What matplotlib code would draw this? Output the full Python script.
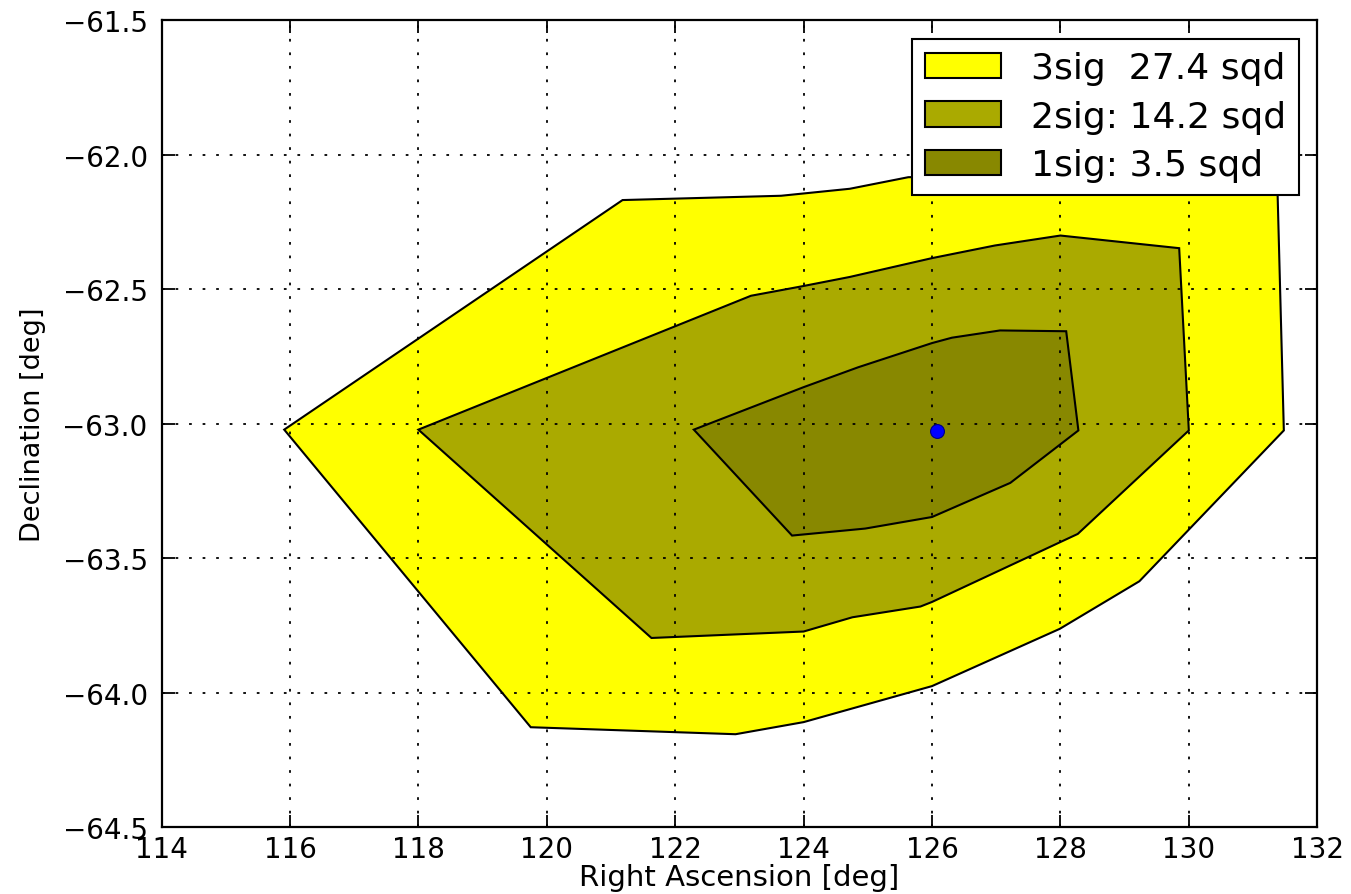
import numpy as np
import matplotlib
matplotlib.use('Agg')
import matplotlib.pyplot as plt

# contour polygons (RA, Dec in deg)
ra_3sig = [115.91, 121.18, 123.65, 124.72, 125.63, 128.0, 130.5, 131.38,
           131.48, 129.23, 127.99, 126.0, 124.0, 122.94, 119.75]
dec_3sig = [-63.022, -62.168, -62.152, -62.126, -62.083, -62.07, -62.09, -62.12,
            -63.025, -63.586, -63.763, -63.976, -64.11, -64.155, -64.129]

ra_2sig = [118.0, 123.18, 123.97, 124.72, 126.0, 126.98, 128.0, 129.85,
           130.0, 128.27, 126.0, 125.82, 124.76, 124.0, 121.63]
dec_2sig = [-63.022, -62.524, -62.489, -62.454, -62.384, -62.337, -62.30, -62.347,
            -63.025, -63.41, -63.663, -63.68, -63.72, -63.773, -63.797]

ra_1sig = [122.29, 124.0, 124.85, 126.0, 126.31, 127.06, 128.09, 128.28,
           127.22, 126.0, 124.96, 123.82]
dec_1sig = [-63.022, -62.864, -62.79, -62.70, -62.68, -62.653, -62.656, -63.025,
            -63.22, -63.347, -63.39, -63.416]

best_ra, best_dec = 126.07, -63.027

labels = ['3sig  27.4 sqd', '2sig: 14.2 sqd', '1sig: 3.5 sqd']
colors = ['#ffff00', '#aaaa00', '#888800']

fig = plt.figure(figsize=(13.51, 8.95), dpi=100)
ax = fig.add_axes([0.1196, 0.0749, 0.8554, 0.9011])

for ra, dec, c, lab in zip([ra_3sig, ra_2sig, ra_1sig], [dec_3sig, dec_2sig, dec_1sig], colors, labels):
    ax.fill(ra, dec, facecolor=c, edgecolor='k', linewidth=1.5, label=lab, zorder=1)

ax.plot(best_ra, best_dec, 'o', color='blue', markersize=10, markeredgecolor='#000080',
        markeredgewidth=0.8, zorder=5)

ax.set_xlim(114, 132)
ax.set_ylim(-64.5, -61.5)
ax.set_xticks(np.arange(114, 133, 2))
ax.set_yticks(np.arange(-64.5, -61.4, 0.5))
ax.set_yticklabels(['\u221264.5', '\u221264.0', '\u221263.5', '\u221263.0',
                    '\u221262.5', '\u221262.0', '\u221261.5'])

ax.set_axisbelow(False)
ax.grid(True, color='k', linestyle=(0, (1.5, 6)), linewidth=1.3)
ax.tick_params(direction='in', top=True, right=True, length=9, width=1.3,
               labelsize=20)
ax.tick_params(axis='x', pad=6)
ax.tick_params(axis='y', pad=10)
for s in ax.spines.values():
    s.set_linewidth(1.6)

ax.set_xlabel('Right Ascension [deg]', fontsize=21, labelpad=0)
ax.set_ylabel('Declination [deg]', fontsize=19.5, labelpad=12)

leg = ax.legend(loc='upper right', fontsize=26, fancybox=False, framealpha=1,
                edgecolor='k', handlelength=2.1, handleheight=0.7,
                borderpad=0.35, borderaxespad=0.5, labelspacing=0.4,
                handletextpad=0.85)
leg.get_frame().set_linewidth(1.5)

fig.savefig('out.png', dpi=100)
